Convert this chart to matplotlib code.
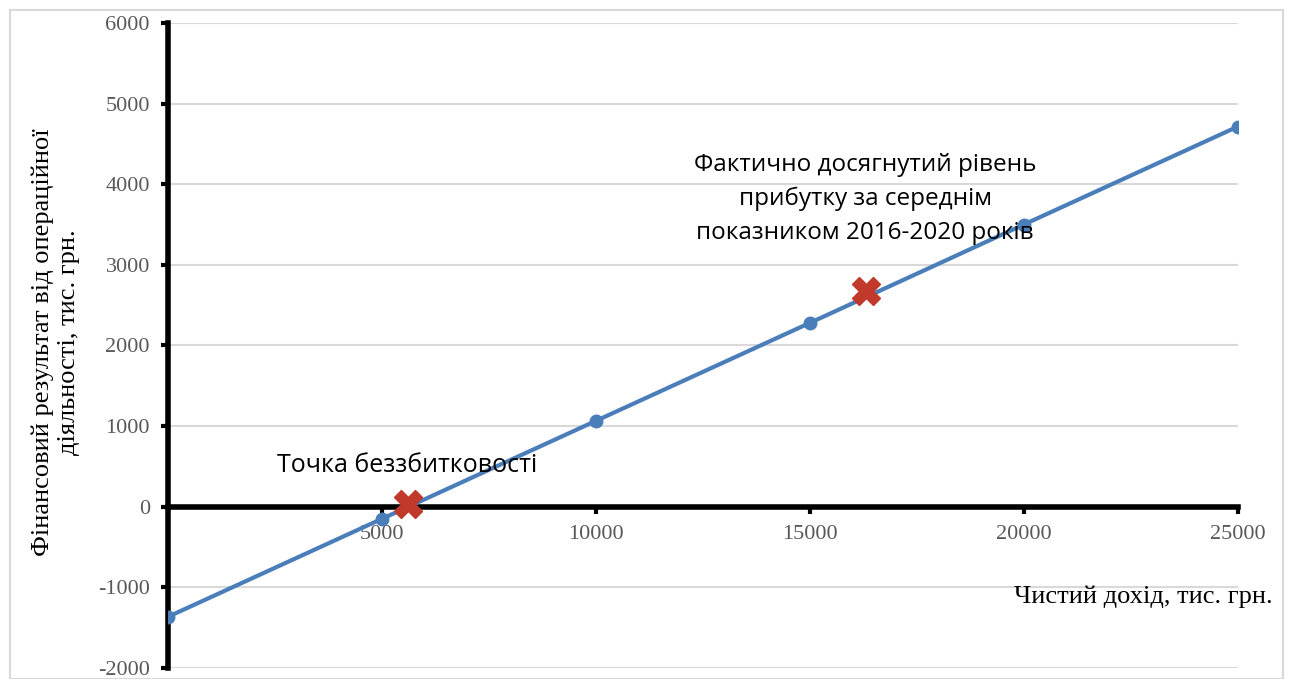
import numpy as np
import matplotlib.pyplot as plt
from matplotlib.patches import Rectangle

plt.rcParams['axes.unicode_minus'] = False

# дані графіка
income = [0, 5000, 10000, 15000, 20000, 25000]
result = [-1365, -150, 1065, 2280, 3500, 4715]
marks_x = [5600, 16300]
marks_y = [40, 2680]

fig = plt.figure(figsize=(12.89, 6.79), dpi=100)
ax = fig.add_axes([0.1303, 0.0162, 0.830, 0.950])

ax.plot(income, result, color='#4a7ebb', lw=3, marker='o', ms=9, zorder=3)
ax.plot(marks_x, marks_y, ls='none', marker='X', ms=20, color='#c0392b',
        markeredgecolor='#c0392b', zorder=4)

ax.set_xlim(0, 25000)
ax.set_ylim(-2000, 6000)
ax.set_yticks(np.arange(-2000, 6001, 1000))
ax.set_xticks([5000, 10000, 15000, 20000, 25000])
ax.grid(axis='y', color='#d9d9d9', lw=1.5)
ax.set_axisbelow(True)

for s in ['top', 'right']:
    ax.spines[s].set_visible(False)
ax.spines['bottom'].set_position(('data', 0))
ax.spines['bottom'].set_linewidth(4)
ax.spines['left'].set_linewidth(4)
ax.tick_params(axis='both', color='black', width=3, length=5, labelsize=16,
               labelcolor='#595959', pad=8)
for lab in ax.get_xticklabels() + ax.get_yticklabels():
    lab.set_family('Liberation Serif')

fig.text(0.043, 0.496, 'Фінансовий результат від операційної\nдіяльності, тис. грн.',
         rotation=90, ha='center', va='center', fontsize=19,
         family='Liberation Serif', linespacing=1.25)
fig.text(0.987, 0.121, 'Чистий дохід, тис. грн.', ha='right', va='center',
         fontsize=19, family='Liberation Serif')

ax.text(2550, 510, 'Точка беззбитковості', ha='left', va='center',
        fontsize=18, family='Open Sans')
ax.text(16290, 3820, 'Фактично досягнутий рівень\nприбутку за середнім\nпоказником 2016-2020 років',
        ha='center', va='center', fontsize=17.5, family='Open Sans', linespacing=1.55)

fig.patches.append(Rectangle((0.008, 0.0), 0.987, 0.985, transform=fig.transFigure,
                             fill=False, edgecolor='#d9d9d9', lw=1.5))

fig.savefig('out.png', dpi=100)
